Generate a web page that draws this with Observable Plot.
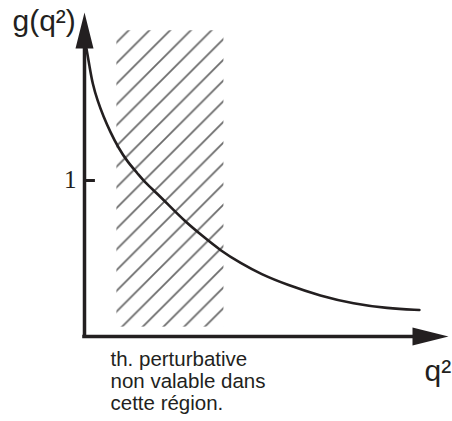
<!DOCTYPE html>
<html>
<head>
<meta charset="utf-8">
<script src="https://cdn.jsdelivr.net/npm/d3@7"></script>
<script src="https://cdn.jsdelivr.net/npm/@observablehq/plot@0.6"></script>
<style>
  html, body { margin: 0; padding: 0; background: #fff; overflow: hidden; }
</style>
</head>
<body>
<div id="chart"></div>
<script>
// ---- data ----
const q2 = [0.05, 0.14, 0.22, 0.36, 0.52, 0.71, 0.93, 1.18, 1.46, 1.65, 1.98, 2.28, 2.75, 3.21, 3.74, 4.29, 4.84, 5.58, 6.48, 7.39, 8.32, 9.20];
const g  = [1.85, 1.73, 1.62, 1.51, 1.41, 1.31, 1.21, 1.12, 1.045, 0.99, 0.92, 0.85, 0.74, 0.65, 0.55, 0.47, 0.40, 0.33, 0.26, 0.21, 0.18, 0.17];
const yTicks = [1];
const yTickLabels = ["1"];
const hatchRegion = [{x1: 0.89, x2: 3.83, y1: 0.06, y2: 1.96}];
const xMax = 10;
const yMax = 2.077;
const yLabel = "g(q²)";
const xLabel = "q²";
const note = "th. perturbative\nnon valable dans\ncette région.";

const curve = q2.map((x, i) => ({x, y: g[i]}));
const ink = "#231f20";

const arrowUp = {
  draw(ctx) {
    ctx.moveTo(0, 0);
    ctx.lineTo(-9, 36);
    ctx.lineTo(9, 36);
    ctx.closePath();
  }
};

const chart = Plot.plot({
  width: 452,
  height: 421,
  marginLeft: 84,
  marginRight: 4,
  marginTop: 12,
  marginBottom: 85,
  x: {type: "linear", domain: [0, xMax], axis: null},
  y: {type: "linear", domain: [0, yMax], axis: null},
  style: {background: "white"},
  marks: [
    Plot.rect(hatchRegion, {x1: "x1", x2: "x2", y1: "y1", y2: "y2", fill: "url(#hatch)"}),
    Plot.line(curve, {x: "x", y: "y", stroke: ink, strokeWidth: 2.6, curve: "basis"}),
    // axes
    Plot.ruleX([0], {y1: 0, y2: yMax - 0.2, stroke: ink, strokeWidth: 3.5, strokeLinecap: "square"}),
    Plot.ruleY([0], {x1: 0, x2: xMax - 0.8, stroke: ink, strokeWidth: 3.5, strokeLinecap: "square"}),
    Plot.dot([{x: 0, y: yMax}], {x: "x", y: "y", symbol: arrowUp, fill: ink, stroke: "none"}),
    Plot.dot([{x: xMax, y: 0}], {x: "x", y: "y", symbol: arrowUp, fill: ink, stroke: "none", rotate: 90}),
    // tick at 1
    Plot.ruleY(yTicks, {x1: 0, x2: 0.3, stroke: ink, strokeWidth: 3}),
    Plot.text(yTicks, {x: () => 0, y: d => d, text: (d, i) => yTickLabels[i], textAnchor: "end", lineAnchor: "bottom", dx: -8, dy: 7, fontFamily: "Liberation Serif", fontSize: 25, fill: ink}),
    // labels
    Plot.text([yLabel], {frameAnchor: "top-left", text: d => d, textAnchor: "start", lineAnchor: "bottom", dx: -72, dy: 18, fontFamily: "Liberation Sans", fontSize: 30, fill: ink}),
    Plot.text([xLabel], {frameAnchor: "bottom-right", text: d => d, textAnchor: "start", lineAnchor: "bottom", dx: -24, dy: 44, fontFamily: "Liberation Sans", fontSize: 30, fill: ink}),
    Plot.text([note], {frameAnchor: "bottom-left", text: d => d, textAnchor: "start", lineAnchor: "bottom", dx: 26, dy: 73, lineHeight: 1.05, fontFamily: "Liberation Sans", fontSize: 20.5, fill: ink})
  ]
});

// hatch pattern
const w = 20.7;
const defs = d3.select(chart).insert("defs", ":first-child");
const pat = defs.append("pattern")
  .attr("id", "hatch")
  .attr("patternUnits", "userSpaceOnUse")
  .attr("x", 14.1).attr("y", 0)
  .attr("width", w).attr("height", w);
pat.append("path")
  .attr("d", `M0,${w}L${w},0M${-w/4},${w/4}L${w/4},${-w/4}M${3*w/4},${5*w/4}L${5*w/4},${3*w/4}`)
  .attr("stroke", "#6a6a6a")
  .attr("stroke-width", 1.8)
  .attr("fill", "none");

document.getElementById("chart").appendChild(chart);
</script>
</body>
</html>
